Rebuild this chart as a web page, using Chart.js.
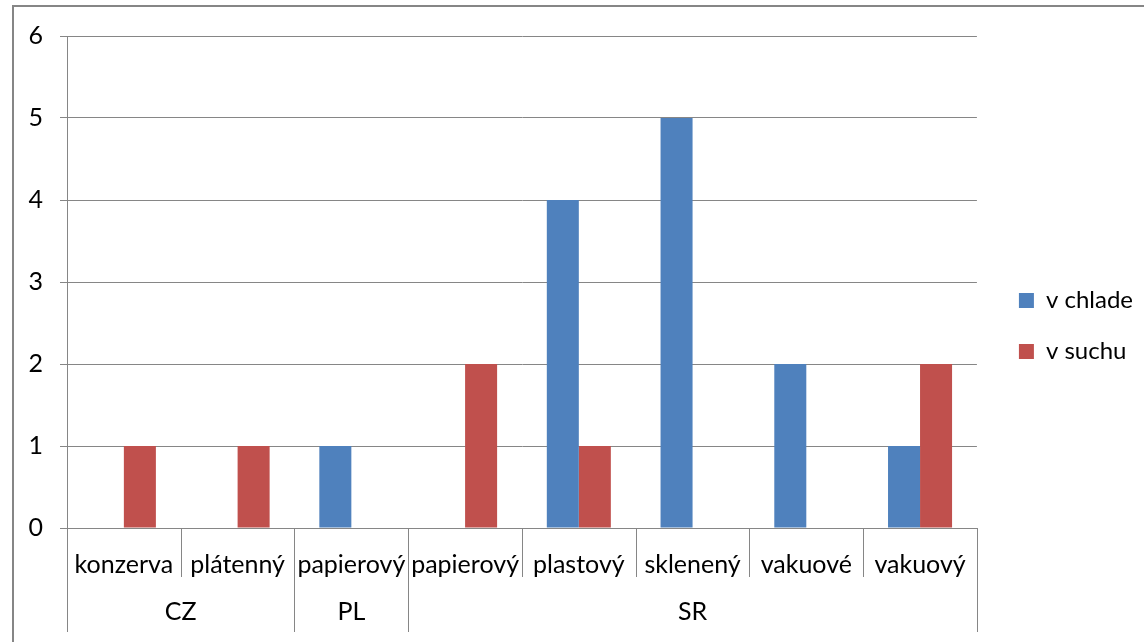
<!DOCTYPE html>
<html>
<head>
<meta charset="utf-8">
<script src="https://cdn.jsdelivr.net/npm/chart.js@4/dist/chart.umd.min.js"></script>
<style>
body { margin: 0; background: #fff; }
#wrap { width: 1144px; height: 642px; }
</style>
</head>
<body>
<div id="wrap"><canvas id="canva1"></canvas></div>
<script>
const categories = ["konzerva", "plátenný", "papierový", "papierový", "plastový", "sklenený", "vakuové", "vakuový"];
const groups = ["CZ", "PL", "SR"];
const groupSizes = [2, 1, 5];
const vChlade = [0, 0, 1, 0, 4, 5, 2, 1];
const vSuchu = [1, 1, 0, 2, 1, 0, 0, 2];
const yTicks = [0, 1, 2, 3, 4, 5, 6];

const lineColor = "#868686";
const font = "Lato";

// frame + two level category axis (separators and group names)
const groupAxis = {
    id: "groupAxis",
    afterLayout(chart){
        // legend sits a bit further from the plot than its padding gives
        const lg = chart.legend;
        lg.left += 15; lg.right += 15;
        lg.top -= 13; lg.bottom -= 13;
    },
    afterDraw(chart){
        const ctx = chart.ctx;
        const x = chart.scales.x;
        const bottom = chart.chartArea.bottom;
        ctx.save();
        ctx.strokeStyle = lineColor;
        ctx.lineWidth = 2;
        ctx.strokeRect(13, 6, 2000, 2000);

        let starts = [0];
        groupSizes.forEach(n => starts.push(starts[starts.length - 1] + n));
        ctx.lineWidth = 1;
        for (let i = 0; i <= categories.length; i++){
            const px = Math.round(x.getPixelForValue(i - 0.5)) + 0.5;
            const end = starts.includes(i) ? bottom + 104 : bottom + 49;
            ctx.beginPath();
            ctx.moveTo(px, bottom);
            ctx.lineTo(px, end);
            ctx.stroke();
        }
        ctx.fillStyle = "#000";
        ctx.font = "25px " + font;
        ctx.textAlign = "center";
        ctx.textBaseline = "middle";
        groups.forEach((g, k) => {
            const a = x.getPixelForValue(starts[k] - 0.5);
            const b = x.getPixelForValue(starts[k + 1] - 0.5);
            ctx.fillText(g, (a + b) / 2, bottom + 84);
        });
        ctx.restore();
    }
};

window.onload = function(){
    let canva1 = document.getElementById("canva1");
    let grafico1 = new Chart(canva1, {
        type: "bar",
        data: {
            labels: categories,
            datasets: [{
                label: "v chlade",
                data: vChlade,
                backgroundColor: "#4F81BD"
            }, {
                label: "v suchu",
                data: vSuchu,
                backgroundColor: "#C0504D"
            }]
        },
        options: {
            responsive: true,
            maintainAspectRatio: false,
            animation: false,
            layout: { padding: { left: 0, top: 36, right: 16, bottom: 0 } },
            datasets: { bar: { categoryPercentage: 0.563, barPercentage: 1 } },
            plugins: {
                legend: {
                    position: "right",
                    labels: {
                        boxWidth: 15,
                        boxHeight: 15,
                        padding: 27,
                        color: "#000",
                        font: { family: font, size: 24 }
                    }
                },
                tooltip: { enabled: false }
            },
            scales: {
                x: {
                    grid: { display: false },
                    border: { color: lineColor },
                    ticks: {
                        color: "#000",
                        padding: 14,
                        maxRotation: 0,
                        autoSkip: false,
                        font: { family: font, size: 25 }
                    },
                    afterFit(scale){ scale.height = 114; }
                },
                y: {
                    min: 0,
                    max: 6,
                    afterBuildTicks(scale){ scale.ticks = yTicks.map(v => ({ value: v })); },
                    grid: { color: lineColor, tickLength: 7 },
                    border: { color: lineColor },
                    ticks: {
                        color: "#000",
                        padding: 17,
                        font: { family: font, size: 25 }
                    },
                    afterFit(scale){ scale.width = 67; }
                }
            }
        },
        plugins: [groupAxis]
    });
}
</script>
</body>
</html>
